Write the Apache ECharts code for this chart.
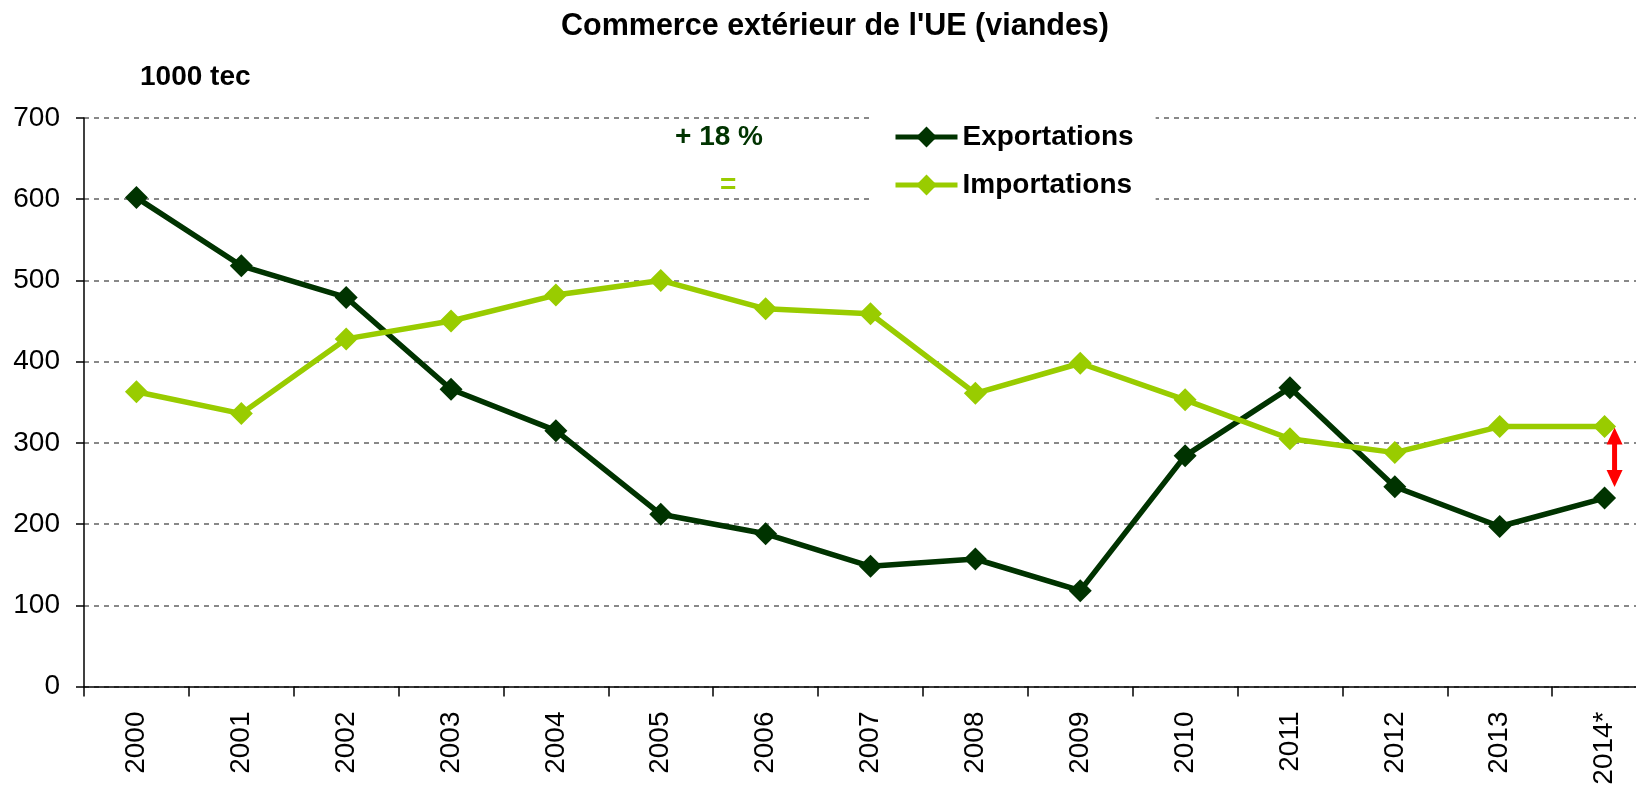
<!DOCTYPE html>
<html>
<head>
<meta charset="utf-8">
<script src="https://cdn.jsdelivr.net/npm/echarts@6/dist/echarts.min.js"></script>
<style>
html,body{margin:0;padding:0;background:#fff;}
#chart{width:1636px;height:785px;}
</style>
</head>
<body>
<div id="chart"></div>
<script>
const years = ['2000','2001','2002','2003','2004','2005','2006','2007','2008','2009','2010','2011','2012','2013','2014*'];
const exportations = [602,518,479,366,315,212,188,148,157,118,284,368,246,197,232];
const importations = [363,336,428,450,482,500,465,459,361,398,353,305,288,320,320];
const yMin = 0, yMax = 700, yStep = 100;
const titleText = "Commerce extérieur de l'UE (viandes)";
const unitText = '1000 tec';
const noteExport = '+ 18 %';
const noteImport = '=';

const FONT = "'Liberation Sans', Arial, sans-serif";
const DARK = '#003300';
const LIGHT = '#99cc00';

const chart = echarts.init(document.getElementById('chart'), null, {renderer: 'canvas'});

const option = {
  animation: false,
  backgroundColor: '#fff',
  title: [
    {text: titleText, left: 561, top: 12, padding: 0,
     textStyle: {fontFamily: FONT, fontSize: 30.5, fontWeight: 'bold', color: '#000', lineHeight: 30}},
    {text: unitText, left: 140, top: 63, padding: 0,
     textStyle: {fontFamily: FONT, fontSize: 28, fontWeight: 'bold', color: '#000', lineHeight: 28}}
  ],
  legend: {
    orient: 'vertical',
    left: 871, top: 113,
    padding: [10, 22, 10, 22],
    backgroundColor: '#fff',
    itemWidth: 62, itemHeight: 26, itemGap: 20,
    lineStyle: {width: 5},
    textStyle: {fontFamily: FONT, fontSize: 28, fontWeight: 'bold', color: '#000', lineHeight: 28},
    data: ['Exportations', 'Importations']
  },
  grid: {left: 84, top: 118, width: 1573, height: 568.5, containLabel: false, outerBoundsMode: 'none'},
  xAxis: {
    type: 'category', data: years, boundaryGap: true,
    axisLine: {lineStyle: {color: '#000', width: 1.5}},
    axisTick: {show: true, length: 10, lineStyle: {color: '#000', width: 1.5}},
    axisLabel: {rotate: 90, margin: 25, fontFamily: FONT, fontSize: 28, color: '#000', interval: 0},
    splitLine: {show: false}
  },
  yAxis: {
    type: 'value', min: yMin, max: yMax, interval: yStep,
    axisLine: {show: true, lineStyle: {color: '#000', width: 1.5}},
    axisTick: {show: true, length: 8, lineStyle: {color: '#000', width: 1.5}},
    axisLabel: {margin: 24, fontFamily: FONT, fontSize: 28, color: '#000'},
    splitLine: {show: true, lineStyle: {color: '#888888', width: 2, type: [5, 5]}}
  },
  series: [
    {name: 'Exportations', type: 'line', data: exportations,
     symbol: 'diamond', symbolSize: 23, showAllSymbol: true,
     lineStyle: {color: DARK, width: 5.5}, itemStyle: {color: DARK},
     emphasis: {disabled: true}},
    {name: 'Importations', type: 'line', data: importations,
     symbol: 'diamond', symbolSize: 23, showAllSymbol: true,
     lineStyle: {color: LIGHT, width: 5.5}, itemStyle: {color: LIGHT},
     emphasis: {disabled: true}}
  ]
};
chart.setOption(option);

// Annotations: notes and red double arrow placed from the chart's scales
const last = years.length - 1;
const pImp = chart.convertToPixel({gridIndex: 0}, [last, importations[last]]);
const pExp = chart.convertToPixel({gridIndex: 0}, [last, exportations[last]]);
const ax = pImp[0] + 10;
const yTop = pImp[1] + 1;
const yBot = pExp[1] - 11;
const headH = 17, headW = 16, shaft = 5;

chart.setOption({
  graphic: [
    {type: 'text', left: 675, top: 123, style: {text: noteExport, fill: DARK, font: "bold 28px 'Liberation Sans', Arial, sans-serif"}},
    {type: 'text', left: 720, top: 171, style: {text: noteImport, fill: LIGHT, font: "bold 28px 'Liberation Sans', Arial, sans-serif"}},
    {type: 'group', children: [
      {type: 'rect', shape: {x: ax - shaft/2, y: yTop + headH - 1, width: shaft, height: (yBot - yTop) - 2*headH + 2}, style: {fill: '#ff0000'}},
      {type: 'polygon', shape: {points: [[ax, yTop], [ax - headW/2, yTop + headH], [ax + headW/2, yTop + headH]]}, style: {fill: '#ff0000'}},
      {type: 'polygon', shape: {points: [[ax, yBot], [ax - headW/2, yBot - headH], [ax + headW/2, yBot - headH]]}, style: {fill: '#ff0000'}}
    ]}
  ]
});
</script>
</body>
</html>
